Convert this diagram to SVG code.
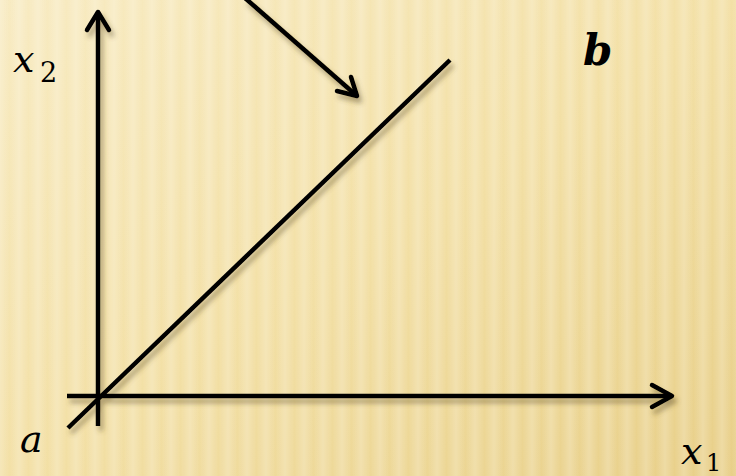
<svg xmlns="http://www.w3.org/2000/svg" width="736" height="476" viewBox="0 0 736 476">
<defs>
<linearGradient id="base" x1="0" y1="0" x2="1" y2="1">
<stop offset="0" stop-color="#f8ebc2"/>
<stop offset="0.5" stop-color="#f3e0a6"/>
<stop offset="1" stop-color="#e8cf88"/>
</linearGradient>
<linearGradient id="stripeG" x1="0" y1="0" x2="1" y2="0">
<stop offset="0" stop-color="#ffffff" stop-opacity="0.22"/>
<stop offset="0.5" stop-color="#ffffff" stop-opacity="0"/>
<stop offset="1" stop-color="#ffffff" stop-opacity="0.22"/>
</linearGradient>
<pattern id="stripes" x="0" y="0" width="19" height="476" patternUnits="userSpaceOnUse">
<rect width="19" height="476" fill="url(#stripeG)"/>
</pattern>
<filter id="sh" x="-10%" y="-10%" width="130%" height="130%">
<feDropShadow dx="3" dy="5" stdDeviation="2.5" flood-color="#5a4a20" flood-opacity="0.45"/>
</filter>
<style>
.ln{stroke:#000;stroke-width:4.5;fill:none;stroke-linecap:butt;stroke-linejoin:miter}
.hd{stroke:#000;stroke-width:4.5;fill:none;stroke-linecap:round;stroke-linejoin:round}
.m{font-family:"DejaVu Serif","Liberation Serif",serif;font-style:italic;fill:#000}
.s{font-family:"DejaVu Serif","Liberation Serif",serif;fill:#000}
</style>
</defs>
<rect width="736" height="476" fill="url(#base)"/>
<rect width="736" height="476" fill="url(#stripes)"/>
<g id="connectors" filter="url(#sh)">
<g id="axis-x2">
<line class="ln" x1="98" y1="426" x2="98" y2="12"/>
<polyline class="hd" points="87,30 98,12 109,30"/>
</g>
<g id="axis-x1">
<line class="ln" x1="67" y1="396" x2="672" y2="396"/>
<polyline class="hd" points="652,385 672,396 652,407"/>
</g>
<line id="line-ab" class="ln" x1="68" y1="428" x2="450" y2="60"/>
<g id="pointer">
<line class="ln" x1="245" y1="-2" x2="357" y2="96"/>
<polyline class="hd" points="351,77 357,96 337,91"/>
</g>
</g>
<g id="label-x2"><text class="m" x="13" y="72" font-size="38">x</text><text class="s" x="40" y="82" font-size="27">2</text></g>
<g id="label-b"><text class="m" x="583" y="65" font-size="42" font-weight="bold">b</text></g>
<g id="label-a"><text class="m" x="20" y="452" font-size="38">a</text></g>
<g id="label-x1"><text class="m" x="681" y="464" font-size="38">x</text><text class="s" x="706" y="471" font-size="24">1</text></g>
</svg>
